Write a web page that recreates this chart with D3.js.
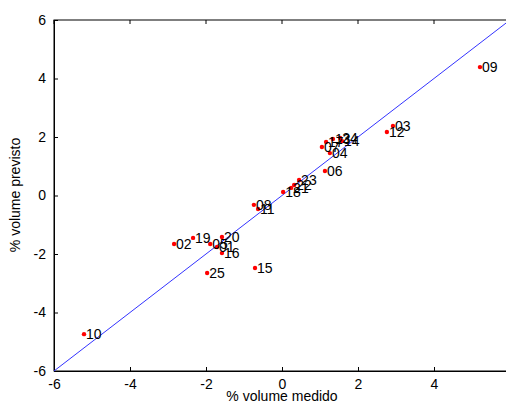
<!DOCTYPE html>
<html>
<head>
<meta charset="utf-8">
<script src="https://cdn.jsdelivr.net/npm/d3@7"></script>
<style>
  body { margin: 0; background: #fff; }
  text { font-family: "Liberation Sans", Arial, sans-serif; }
</style>
</head>
<body>
<svg id="chart" width="506" height="405"></svg>
<script>
// labels and values
var labels   = ["01","02","03","04","05","06","07","08","09","10","11","12","13",
                "14","15","16","17","18","19","20","21","22","23","24","25"];
var medido   = [-1.71,-2.84, 2.92, 1.26,-1.89, 1.13, 1.05,-0.74, 5.21,-5.21,-0.63, 2.76, 1.34,
                 1.58,-0.71,-1.58, 1.16, 0.03,-2.34,-1.58, 0.24, 0.32, 0.45, 1.53,-1.97];
var previsto = [-1.76,-1.66, 2.38, 1.45,-1.66, 0.84, 1.66,-0.32, 4.39,-4.74,-0.46, 2.17, 1.93,
                 1.86,-2.48,-1.97, 1.83, 0.12,-1.45,-1.42, 0.26, 0.36, 0.53, 1.97,-2.65];
var xTicks = [-6,-4,-2,0,2,4];
var yTicks = [-6,-4,-2,0,2,4,6];

var svg = d3.select("#chart");
var mLeft = 54, mRight = 510, mTop = 20, mBottom = 371;

var xScale = d3.scaleLinear().domain([-6, 6]).range([mLeft, mRight]);
var yScale = d3.scaleLinear().domain([-6, 6]).range([mBottom, mTop]);

// box
svg.append("rect")
    .attr("x", mLeft).attr("y", mTop)
    .attr("width", mRight - mLeft).attr("height", mBottom - mTop)
    .style("fill", "none").style("stroke", "#000").style("stroke-width", 1);

var xAxis = d3.axisBottom(xScale).tickValues(xTicks).tickSizeInner(-4).tickSizeOuter(0).tickPadding(8);
var yAxis = d3.axisLeft(yScale).tickValues(yTicks).tickSizeInner(-4).tickSizeOuter(0).tickPadding(8);

var gx = svg.append("g")
    .attr("transform", "translate(0," + mBottom + ")")
    .call(xAxis);
var gy = svg.append("g")
    .attr("transform", "translate(" + mLeft + ",0)")
    .call(yAxis);

[gx, gy].forEach(function(g) {
    g.select(".domain").attr("stroke", "#000");
    g.selectAll(".tick line").attr("stroke", "#000");
    g.selectAll(".tick text")
        .attr("fill", "#000")
        .style("font-size", "14px")
        .style("font-family", "Liberation Sans, Arial, sans-serif")
        .text(function(d) { return d; });
});

// top ticks
svg.append("g").selectAll("line")
    .data(xTicks)
    .enter()
    .append("line")
    .attr("x1", function(d) { return xScale(d); })
    .attr("x2", function(d) { return xScale(d); })
    .attr("y1", mTop).attr("y2", mTop + 4)
    .attr("stroke", "#000");

// identity line
svg.append("line")
    .attr("x1", xScale(-6)).attr("y1", yScale(-6))
    .attr("x2", xScale(6)).attr("y2", yScale(6))
    .attr("stroke", "#3333ff").attr("stroke-width", 1);

var data = labels.map(function(l, i) { return {label: l, x: medido[i], y: previsto[i]}; });

var g = svg.append("g");
g.selectAll("circle")
    .data(data)
    .enter()
    .append("circle")
    .attr("cx", function(d) { return xScale(d.x); })
    .attr("cy", function(d) { return yScale(d.y); })
    .attr("r", 2.2)
    .style("fill", "#ff0000");

g.selectAll("text")
    .data(data)
    .enter()
    .append("text")
    .attr("x", function(d) { return xScale(d.x) + 2; })
    .attr("y", function(d) { return yScale(d.y) + 5; })
    .style("font-size", "14px")
    .style("fill", "#000")
    .text(function(d) { return d.label; });

// axis titles
svg.append("text")
    .attr("x", (mLeft + 506) / 2 + 2).attr("y", 401)
    .attr("text-anchor", "middle")
    .style("font-size", "14px")
    .text("% volume medido");

svg.append("text")
    .attr("transform", "translate(20," + 195 + ") rotate(-90)")
    .attr("text-anchor", "middle")
    .style("font-size", "14px")
    .text("% volume previsto");
</script>
</body>
</html>
